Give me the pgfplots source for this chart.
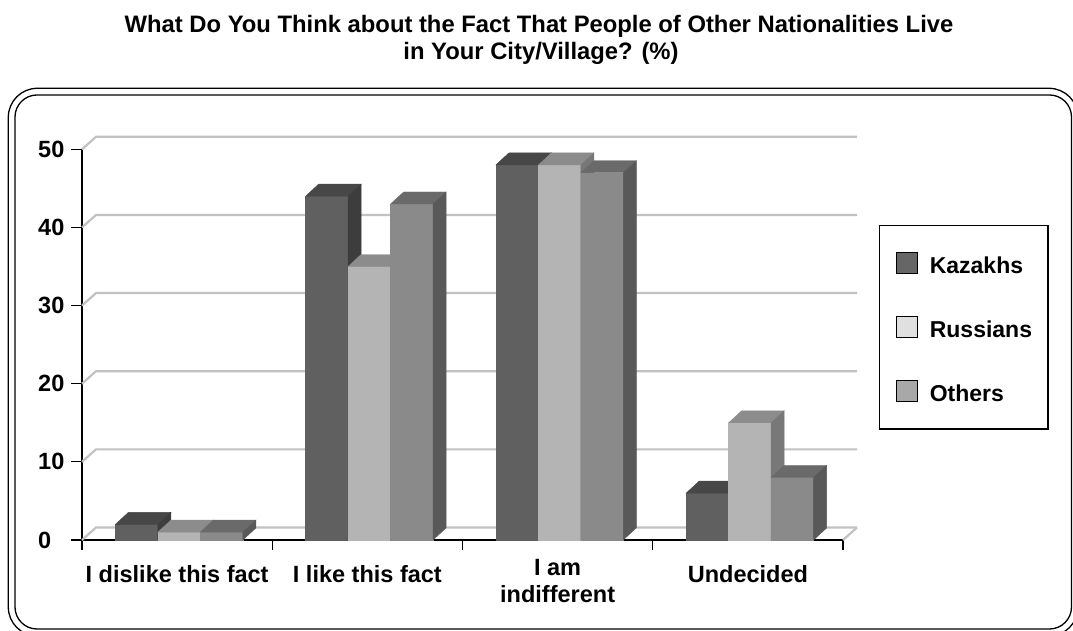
\documentclass[border=0pt]{standalone}
\usepackage{fontspec}
\setmainfont{Liberation Sans}
\usepackage{pgfplots}
\usepackage{pgfplotstable}
\pgfplotsset{compat=1.18}

% face colours of the 3-D columns: front, top, side
\definecolor{kazF}{HTML}{606060}
\definecolor{kazT}{HTML}{474747}
\definecolor{kazS}{HTML}{3D3D3D}
\definecolor{rusF}{HTML}{B4B4B4}
\definecolor{rusT}{HTML}{8C8C8C}
\definecolor{rusS}{HTML}{787878}
\definecolor{othF}{HTML}{8A8A8A}
\definecolor{othT}{HTML}{6A6A6A}
\definecolor{othS}{HTML}{595959}
% legend swatches
\definecolor{kazL}{HTML}{666666}
\definecolor{rusL}{HTML}{E0E0E0}
\definecolor{othL}{HTML}{A8A8A8}
\definecolor{gridgray}{HTML}{C2C2C2}

\newcommand\titlefont{\fontsize{23.8}{27}\selectfont\bfseries}
\newcommand\lblfont{\fontsize{23.5}{27}\selectfont\bfseries}
\newcommand\legfont{\fontsize{23}{27}\selectfont\bfseries}

% answers (%) by nationality
\pgfplotstableread{
cat kaz rus oth
0   2   1   1
1   44  35  43
2   48  48  47
3   6   15  8
}\survey

% one unit on the y axis = 7.81pt; column 42.5pt wide, 13pt x 12pt deep
\newcommand{\barmark}[5]{%
  \pgfdeclareplotmark{#1}{%
    \pgfmathsetmacro{\bh}{\bv*7.81}%
    \pgfmathsetmacro{\xl}{#2-21.25+2}%
    \pgfmathsetmacro{\xr}{#2+21.25+2}%
    \begin{scope}[yshift=2.5pt]
      \fill[#3] (\xl pt,-\bh pt) rectangle (\xr pt,0pt);
      \fill[#4] (\xl pt,0pt) -- (\xr pt,0pt) -- (\xr pt+13pt,12pt) -- (\xl pt+13pt,12pt) -- cycle;
      \fill[#5] (\xr pt,0pt) -- (\xr pt,-\bh pt) -- (\xr pt+13pt,-\bh pt+12pt) -- (\xr pt+13pt,12pt) -- cycle;
    \end{scope}
  }}
\barmark{kazbar}{-42.5}{kazF}{kazT}{kazS}
\barmark{rusbar}{0}{rusF}{rusT}{rusS}
\barmark{othbar}{42.5}{othF}{othT}{othS}

\pgfplotsset{
  col3d/.style={scatter, only marks, mark=#1, forget plot,
    visualization depends on={rawy \as \bv},
    scatter/@pre marker code/.code={\pgfscope},
    scatter/@post marker code/.code={\endpgfscope}},
  sqlegend/.style={legend image code/.code={%
    \draw[##1,line width=1.2pt] (0pt,0pt) rectangle (21pt,21pt);}},
}

\begin{document}
\begin{tikzpicture}[x=1pt,y=1pt]
% double rounded frame
\draw[line width=1.3pt, rounded corners=29pt] (8.3,542.7) rectangle (1078,-5);
\draw[line width=1.3pt, rounded corners=22pt] (15,536) rectangle (1071.5,2);
% title
\node[anchor=base, font=\titlefont, inner sep=0pt] at (539,598.3)
  {What Do You Think about the Fact That People of Other Nationalities Live};
\node[anchor=base, font=\titlefont, inner sep=0pt] at (541,571.4)
  {in Your City/Village? (\%)};

\begin{axis}[
  at={(82pt,91pt)}, anchor=south west,
  scale only axis, width=761pt, height=390.7pt,
  xmin=-0.5, xmax=3.5, ymin=0, ymax=50,
  clip=false,
  axis x line*=bottom, axis y line*=left,
  axis line style={line width=1.2pt, black, -},
  tick style={line width=1.2pt, black},
  tick align=outside, major tick length=10.5pt,
  xtick={-0.5,0.5,1.5,2.5,3.5}, xticklabels={},
  ytick={0,10,...,50},
  tick label style={font=\lblfont},
  /pgf/number format/assume math mode=true,
  yticklabel style={anchor=west, inner sep=0pt, xshift=-33.5pt},
  extra x ticks={0,1,2,3},
  extra x tick labels={I dislike this fact, I like this fact,
    {\raisebox{7pt}{\begin{tabular}[t]{@{}c@{}}I am\\indifferent\end{tabular}}},
    Undecided},
  extra x tick style={major tick length=0pt,
    xticklabel style={anchor=base, yshift=-43pt}},
  legend style={at={(1.0473,0.8062)}, anchor=north west,
    draw=black, line width=1.2pt, fill=white,
    inner xsep=16pt, inner ysep=26pt, row sep=41pt, column sep=12pt,
    nodes={inner sep=0pt, anchor=base west}, font=\legfont},
  legend cell align=left,
]
% back wall gridlines and floor edge
\pgfplotsinvokeforeach{0,10,20,30,40,50}{
  \draw[gridgray, line width=2.2pt]
    (axis cs:-0.5,#1) -- ++(14pt,12.5pt)
    -- ([shift={(14pt,12.5pt)}]axis cs:3.5,#1);
}
\draw[gridgray, line width=2.2pt] (axis cs:3.5,0) -- ++(14pt,12.5pt);

\addplot[col3d=kazbar] table[x=cat, y=kaz]{\survey};
\addplot[col3d=rusbar] table[x=cat, y=rus]{\survey};
\addplot[col3d=othbar] table[x=cat, y=oth]{\survey};

\addlegendimage{sqlegend, fill=kazL}
\addlegendentry{Kazakhs}
\addlegendimage{sqlegend, fill=rusL}
\addlegendentry{Russians}
\addlegendimage{sqlegend, fill=othL}
\addlegendentry{Others}
\end{axis}
% page = 1073 x 631
\pgfresetboundingbox
\useasboundingbox (0,0) rectangle (1073,631);
\end{tikzpicture}
\end{document}
